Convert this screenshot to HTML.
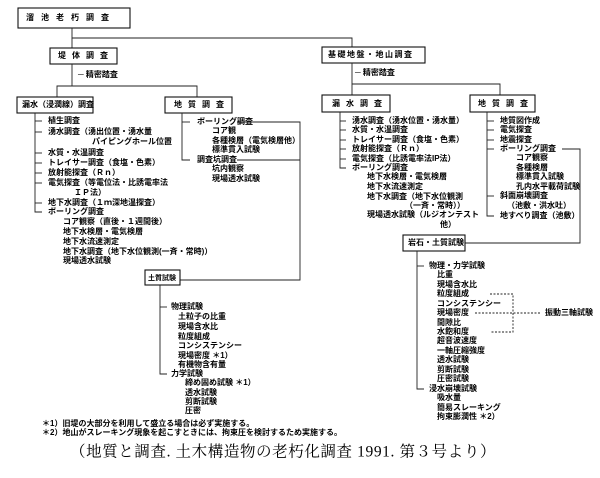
<!DOCTYPE html>
<html><head><meta charset="utf-8"><style>
body{margin:0;background:#fff}
svg{display:block}
text{font-family:"Liberation Sans","Noto Sans CJK JP",sans-serif;font-size:8px;fill:#000;dominant-baseline:middle;font-weight:bold}
.b{fill:none;stroke:#111;stroke-width:1.1}
line,polyline{stroke:#222;stroke-width:0.9;fill:none}
.d{stroke-dasharray:2,1.5}
</style></head><body>
<svg width="600" height="478" xmlns="http://www.w3.org/2000/svg">
<rect class="b" x="18" y="8" width="112" height="20"/>
<text x="26" y="18" letter-spacing="7">溜池老朽調査</text>
<polyline points="72,28 72,38 352,38 352,47"/>
<line x1="72" y1="38" x2="72" y2="48"/>
<rect class="b" x="50" y="48" width="67" height="16"/>
<text x="58" y="56" letter-spacing="6">堤体調査</text>
<line x1="72" y1="64" x2="72" y2="86"/>
<text x="78" y="75">─ 精密踏査</text>
<polyline points="57,97 57,86 197,86 197,97"/>
<rect class="b" x="17" y="97" width="76" height="16"/>
<text x="22" y="105">漏水（浸潤線）調査</text>
<rect class="b" x="165" y="97" width="67" height="16"/>
<text x="174" y="105" letter-spacing="6">地質調査</text>
<polyline points="35,113 35,212 42,212"/>
<g>
<line x1="35" y1="121" x2="42" y2="121"/><line x1="35" y1="132" x2="42" y2="132"/>
<line x1="35" y1="153" x2="42" y2="153"/><line x1="35" y1="163" x2="42" y2="163"/>
<line x1="35" y1="173" x2="42" y2="173"/><line x1="35" y1="183" x2="42" y2="183"/>
<line x1="35" y1="203" x2="42" y2="203"/>
</g>
<text x="48" y="121">植生調査</text>
<text x="48" y="132">湧水調査（湧出位置・湧水量</text>
<text x="92" y="142">パイピングホール位置</text>
<text x="48" y="153">水質・水温調査</text>
<text x="48" y="163">トレイサー調査（食塩・色素）</text>
<text x="48" y="173">放射能探査（Ｒｎ）</text>
<text x="48" y="183">電気探査（等電位法・比誘電率法</text>
<text x="74" y="193">ＩＰ法）</text>
<text x="48" y="203">地下水調査（１ｍ深地温探査）</text>
<text x="48" y="212">ボーリング調査</text>
<text x="63" y="222">コア観察（直後・１週間後）</text>
<text x="63" y="232">地下水検層・電気検層</text>
<text x="63" y="242">地下水流速測定</text>
<text x="63" y="252">地下水調査（地下水位観測(一斉・常時)）</text>
<text x="63" y="261">現場透水試験</text>
<polyline points="182,113 182,160 190,160"/>
<line x1="182" y1="122" x2="190" y2="122"/>
<text x="197" y="122">ボーリング調査</text>
<text x="212" y="131">コア観</text>
<text x="212" y="141">各種検層（電気検層他）</text>
<text x="212" y="150">標準貫入試験</text>
<text x="197" y="160">調査坑調査</text>
<text x="212" y="169">坑内観察</text>
<text x="212" y="179">現場透水試験</text>
<polyline points="237,122 300,122 300,280 180,280"/>
<line x1="237" y1="160" x2="300" y2="160"/>
<rect class="b" x="145" y="270" width="35" height="15"/>
<text x="148" y="278" style="font-size:7px">土質試験</text>
<polyline points="160,285 160,374 167,374"/>
<line x1="160" y1="307" x2="167" y2="307"/>
<text x="171" y="307">物理試験</text>
<text x="178" y="317">土粒子の比重</text>
<text x="178" y="327">現場含水比</text>
<text x="178" y="337">粒度組成</text>
<text x="178" y="346">コンシステンシー</text>
<text x="178" y="356">現場密度 ＊1）</text>
<text x="178" y="365">有機物含有量</text>
<text x="171" y="374">力学試験</text>
<text x="185" y="383">締め固め試験 ＊1）</text>
<text x="185" y="393">透水試験</text>
<text x="185" y="402">剪断試験</text>
<text x="185" y="411">圧密</text>
<text x="42" y="424">＊1）旧堤の大部分を利用して盛立る場合は必ず実施する。</text>
<text x="42" y="433">＊2）地山がスレーキング現象を起こすときには、拘束圧を検討するため実施する。</text>
<text x="70" y="453" style="font-size:15.5px;font-weight:normal;font-family:'Liberation Serif','Noto Serif CJK SC',serif" letter-spacing="0.6">（地質と調査. 土木構造物の老朽化調査 1991. 第３号より）</text>
<rect class="b" x="322" y="47" width="103" height="16"/>
<text x="328" y="55" letter-spacing="1.5">基礎地盤・地山調査</text>
<line x1="352" y1="63" x2="352" y2="95"/>
<text x="355" y="73">─ 精密踏査</text>
<polyline points="352,84 500,84 500,95"/>
<rect class="b" x="322" y="95" width="68" height="17"/>
<text x="332" y="104" letter-spacing="6">漏水調査</text>
<rect class="b" x="470" y="95" width="65" height="17"/>
<text x="478" y="104" letter-spacing="6">地質調査</text>
<polyline points="340,112 340,168 346,168"/>
<line x1="340" y1="121" x2="346" y2="121"/><line x1="340" y1="130" x2="346" y2="130"/>
<line x1="340" y1="140" x2="346" y2="140"/><line x1="340" y1="149" x2="346" y2="149"/>
<line x1="340" y1="159" x2="346" y2="159"/>
<text x="352" y="121">湧水調査（湧水位置・湧水量）</text>
<text x="352" y="130">水質・水温調査</text>
<text x="352" y="140">トレイサー調査（食塩・色素）</text>
<text x="352" y="149">放射能探査（Ｒｎ）</text>
<text x="352" y="159">電気探査（比誘電率法IP法）</text>
<text x="352" y="168">ボーリング調査</text>
<text x="367" y="177">地下水検層・電気検層</text>
<text x="367" y="187">地下水流速測定</text>
<text x="367" y="197">地下水調査（地下水位観測</text>
<text x="405" y="206">（一斉・常時））</text>
<text x="367" y="215">現場透水試験（ルジオンテスト</text>
<text x="440" y="225">他）</text>
<polyline points="487,112 487,216 494,216"/>
<line x1="487" y1="121" x2="494" y2="121"/><line x1="487" y1="130" x2="494" y2="130"/>
<line x1="487" y1="140" x2="494" y2="140"/><line x1="487" y1="149" x2="494" y2="149"/>
<line x1="487" y1="196" x2="494" y2="196"/>
<text x="500" y="121">地質図作成</text>
<text x="500" y="130">電気探査</text>
<text x="500" y="140">地震探査</text>
<text x="500" y="149">ボーリング調査</text>
<text x="516" y="158">コア観察</text>
<text x="516" y="168">各種検層</text>
<text x="516" y="177">標準貫入試験</text>
<text x="516" y="187">孔内水平載荷試験</text>
<text x="500" y="196">斜面崩壊調査</text>
<text x="507" y="206">（池敷・洪水吐）</text>
<text x="500" y="216">地すべり調査（池敷）</text>
<polyline points="562,149 580,149 580,243 465,243"/>
<rect class="b" x="403" y="235" width="62" height="16"/>
<text x="408" y="243">岩石・土質試験</text>
<polyline points="417,251 417,389 424,389"/>
<line x1="417" y1="266" x2="424" y2="266"/>
<text x="429" y="266">物理・力学試験</text>
<text x="437" y="275">比重</text>
<text x="437" y="285">現場含水比</text>
<text x="437" y="294">粒度組成</text>
<text x="437" y="304">コンシステンシー</text>
<text x="437" y="313">現場密度</text>
<text x="437" y="323">間隙比</text>
<text x="437" y="332">水飽和度</text>
<text x="437" y="341">超音波速度</text>
<text x="437" y="351">一軸圧縮強度</text>
<text x="437" y="360">透水試験</text>
<text x="437" y="370">剪断試験</text>
<text x="437" y="379">圧密試験</text>
<text x="429" y="389">浸水崩壊試験</text>
<text x="437" y="398">吸水量</text>
<text x="437" y="408">簡易スレーキング</text>
<text x="437" y="417">拘束膨潤性 ＊2）</text>
<polyline class="d" points="490,294 513,294 513,332 490,332"/>
<line class="d" x1="475" y1="313" x2="540" y2="313"/>
<text x="545" y="313">振動三軸試験</text>
</svg>
</body></html>
